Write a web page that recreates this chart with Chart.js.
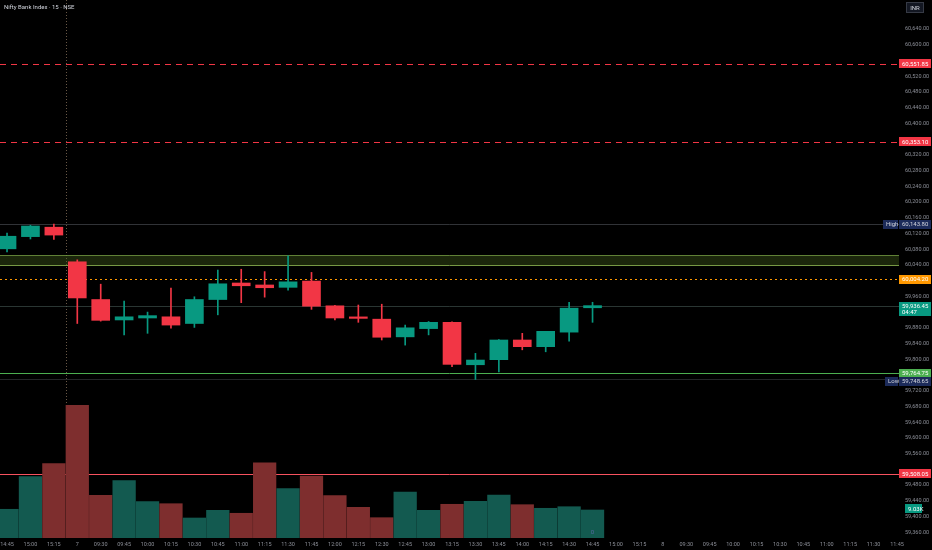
<!DOCTYPE html>
<html>
<head>
<meta charset="utf-8">
<script src="https://cdn.jsdelivr.net/npm/chart.js@4.4.1/dist/chart.umd.min.js"></script>
<style>
  html, body { margin: 0; padding: 0; background: #000; }
  #wrap { width: 932px; height: 550px; position: relative; }
</style>
</head>
<body>
<div id="wrap"><canvas id="chart"></canvas></div>
<script>
// 15 minute bars, Nifty Bank Index
const timeLabels = ['14:45','15:00','15:15','7','09:30','09:45','10:00','10:15','10:30','10:45',
  '11:00','11:15','11:30','11:45','12:00','12:15','12:30','12:45','13:00','13:15','13:30','13:45',
  '14:00','14:15','14:30','14:45','15:00','15:15','8','09:30','09:45','10:00','10:15','10:30',
  '10:45','11:00','11:15','11:30','11:45'];

const opens  = [60081, 60112, 60136, 60048, 59952, 59900, 59905, 59908, 59891, 59952, 59994, 59989, 59983,
                59999, 59936, 59907.5, 59902, 59857, 59878, 59894, 59786, 59799, 59849, 59832, 59869, 59931];
const highs  = [60121, 60141, 60143.8, 60053, 59991, 59948, 59920, 59981, 59959, 60027, 60029, 60023, 60063,
                60021, 59937, 59938, 59940, 59887, 59896, 59895, 59815, 59850, 59866, 59871, 59945, 59945];
const lows   = [60073, 60106, 60105, 59891, 59897, 59862, 59866, 59879, 59881, 59913, 59944, 59958, 59976,
                59927, 59900, 59894, 59849, 59836, 59862, 59781, 59748.65, 59768, 59824, 59819, 59846, 59894];
const closes = [60113, 60139, 60116, 59956, 59899, 59908, 59911, 59887, 59952, 59992, 59987, 59982, 59997,
                59935, 59905, 59904, 59856, 59880, 59894, 59787, 59798, 59849, 59832, 59871, 59930, 59936.45];
const volumes = [9260, 19770, 23960, 42800, 13770, 18480, 11710, 11060, 6450, 8930, 7970, 24280, 15900,
                 20000, 13640, 9900, 6550, 14840, 8930, 10870, 11840, 13870, 10740, 9580, 10090, 9030];

// drawn levels
const dashedLevels = [60551.85, 60353.10];
const zoneLevels = [60039.8, 60065.3];
const orangeLevel = 60004.20;
const greenLevel = 59764.75;
const redLevel = 59508.05;
const sessionHigh = 60143.80;
const sessionLow = 59748.65;
const lastPrice = 59936.45;
const countdown = '04:47';
const sessionBreak = 2.5;

const priceTicks = [];
for (let v = 59360; v <= 60640; v += 40) priceTicks.push(v);
const hiddenTicks = [60560, 60360, 60000, 59920, 59760, 59520];

const UP = '#089981', DOWN = '#f23645';
const upVol = '#135a50', downVol = '#7e2e2e';
const isUp = opens.map((o, i) => closes[i] >= o);

const fmt = v => v.toLocaleString('en-US', { minimumFractionDigits: 2, maximumFractionDigits: 2 });
const FONT = '6px Roboto';

function tag(ctx, text, py, bg, fg, x0, w, h) {
  h = h || 9;
  ctx.fillStyle = bg;
  ctx.fillRect(x0, Math.round(py - h / 2), w, h);
  ctx.fillStyle = fg;
  ctx.font = FONT;
  ctx.textBaseline = 'middle';
  ctx.textAlign = 'left';
  ctx.fillText(text, x0 + 3, py + 0.5);
}

function hLine(ctx, a, py, color, dash) {
  const yy = Math.round(py) + 0.5;
  ctx.strokeStyle = color;
  ctx.lineWidth = 1;
  ctx.setLineDash(dash || []);
  ctx.beginPath();
  ctx.moveTo(a.left, yy);
  ctx.lineTo(a.right, yy);
  ctx.stroke();
  ctx.setLineDash([]);
}

const overlay = {
  id: 'overlay',
  beforeDatasetsDraw(chart) {
    const { ctx, chartArea: a, scales: { x, y } } = chart;
    ctx.save();
    // session break
    const sx = Math.round(x.getPixelForValue(sessionBreak)) + 0.5;
    ctx.strokeStyle = 'rgba(150,125,100,0.7)';
    ctx.setLineDash([1, 2]);
    ctx.beginPath(); ctx.moveTo(sx, 0); ctx.lineTo(sx, a.bottom); ctx.stroke();
    ctx.setLineDash([]);
    // faint high / last / low lines
    hLine(ctx, a, y.getPixelForValue(sessionHigh), 'rgba(90,92,100,0.55)');
    hLine(ctx, a, y.getPixelForValue(lastPrice), 'rgba(70,90,85,0.6)');
    hLine(ctx, a, y.getPixelForValue(sessionLow), 'rgba(90,92,100,0.4)');
    // zone
    const z1 = y.getPixelForValue(zoneLevels[1]), z0 = y.getPixelForValue(zoneLevels[0]);
    ctx.fillStyle = 'rgba(70,100,30,0.38)';
    ctx.fillRect(a.left, z1, a.width, z0 - z1);
    hLine(ctx, a, z1, 'rgba(120,160,70,0.75)');
    hLine(ctx, a, z0, 'rgba(140,180,80,0.85)');
    // levels
    dashedLevels.forEach(v => hLine(ctx, a, y.getPixelForValue(v), '#f23645', [6, 5]));
    hLine(ctx, a, y.getPixelForValue(orangeLevel), '#ff9800', [2, 3]);
    hLine(ctx, a, y.getPixelForValue(greenLevel), '#4caf50');
    hLine(ctx, a, y.getPixelForValue(redLevel), '#f7525f');
    ctx.restore();
  },
  afterDraw(chart) {
    const { ctx, chartArea: a, scales: { x, y, yv } } = chart;
    ctx.save();
    const x0 = a.right, w = 932 - a.right - 1;
    dashedLevels.forEach(v => tag(ctx, fmt(v), y.getPixelForValue(v), '#f23645', '#fff', x0, w));
    tag(ctx, fmt(orangeLevel), y.getPixelForValue(orangeLevel), '#ff9800', '#fff', x0, w);
    tag(ctx, fmt(greenLevel), y.getPixelForValue(greenLevel), '#4caf50', '#fff', x0, w);
    tag(ctx, fmt(redLevel), y.getPixelForValue(redLevel), '#f23645', '#fff', x0, w);
    // high / low
    const hy = y.getPixelForValue(sessionHigh), ly = y.getPixelForValue(sessionLow) + 2;
    tag(ctx, 'High', hy, '#1c2b5a', '#d1d4dc', x0 - 16, 15);
    tag(ctx, fmt(sessionHigh), hy, '#1c2b5a', '#d1d4dc', x0, w);
    tag(ctx, 'Low', ly, '#1c2b5a', '#d1d4dc', x0 - 14, 13);
    tag(ctx, fmt(sessionLow), ly, '#1c2b5a', '#d1d4dc', x0, w);
    // last price with countdown
    const py = y.getPixelForValue(lastPrice);
    ctx.fillStyle = UP;
    ctx.fillRect(x0, Math.round(py - 4), w, 14);
    ctx.fillStyle = '#fff';
    ctx.font = FONT; ctx.textBaseline = 'middle'; ctx.textAlign = 'left';
    ctx.fillText(fmt(lastPrice), x0 + 3, py + 0.5);
    ctx.fillText(countdown, x0 + 3, py + 6.5);
    // volume value
    const vLast = volumes[volumes.length - 1];
    tag(ctx, (vLast / 1000).toFixed(2) + 'K', yv.getPixelForValue(vLast) - 1, UP, '#fff', x0 + 6, 17);
    // event marker
    ctx.fillStyle = '#5468a0';
    ctx.textAlign = 'center';
    ctx.fillText('0', x.getPixelForValue(volumes.length - 1), a.bottom - 6);
    // title and currency box
    ctx.textAlign = 'left';
    ctx.fillStyle = '#d1d4dc';
    ctx.font = '6px Roboto';
    ctx.fillText('Nifty Bank Index \u00b7 15 \u00b7 NSE', 4, 7);
    ctx.strokeStyle = '#363a45';
    ctx.fillStyle = '#131722';
    ctx.fillRect(906.5, 2.5, 17, 10);
    ctx.strokeRect(906.5, 2.5, 17, 10);
    ctx.fillStyle = '#d1d4dc';
    ctx.textAlign = 'center';
    ctx.fillText('INR', 915, 8);
    ctx.restore();
  }
};

new Chart(document.getElementById('chart'), {
  type: 'bar',
  data: {
    datasets: [
      {
        label: 'Volume',
        yAxisID: 'yv',
        data: volumes.map((v, i) => ({ x: i, y: v })),
        backgroundColor: isUp.map(u => u ? upVol : downVol),
        barThickness: 22.6,
        grouped: false,
        order: 3
      },
      {
        label: 'Wick',
        yAxisID: 'y',
        data: lows.map((l, i) => ({ x: i, y: [l, highs[i]] })),
        backgroundColor: isUp.map(u => u ? UP : DOWN),
        barThickness: 1,
        grouped: false,
        order: 2
      },
      {
        label: 'Body',
        yAxisID: 'y',
        data: opens.map((o, i) => ({ x: i, y: [o, closes[i]] })),
        backgroundColor: isUp.map(u => u ? UP : DOWN),
        barThickness: 18,
        minBarLength: 1.5,
        grouped: false,
        order: 1
      }
    ]
  },
  options: {
    responsive: true,
    maintainAspectRatio: false,
    animation: false,
    layout: { padding: 0 },
    plugins: { legend: { display: false }, tooltip: { enabled: false } },
    scales: {
      x: {
        type: 'linear',
        offset: false,
        min: -0.3,
        max: 38.085,
        grid: { display: false, drawTicks: true, tickLength: 3 },
        border: { display: false },
        afterBuildTicks: s => { s.ticks = timeLabels.map((_, i) => ({ value: i })); },
        afterFit: s => { s.height = 12; },
        ticks: {
          autoSkip: false,
          maxRotation: 0,
          padding: 0,
          color: '#8b8e97',
          font: { family: 'Roboto', size: 5.5 },
          callback: v => timeLabels[v] ?? ''
        }
      },
      y: {
        position: 'right',
        min: 59345.2,
        max: 60714.1,
        grid: { display: false, drawTicks: true, tickLength: 6 },
        border: { display: false },
        afterBuildTicks: s => {
          s.ticks = priceTicks.filter(v => !hiddenTicks.includes(v)).map(v => ({ value: v }));
        },
        afterFit: s => { s.width = 33; },
        ticks: {
          padding: 0,
          color: '#8b8e97',
          font: { family: 'Roboto', size: 5.5, lineHeight: 0 },
          callback: v => fmt(v)
        }
      },
      yv: {
        display: false,
        min: 0,
        max: 173500
      }
    }
  },
  plugins: [overlay]
});
</script>
</body>
</html>
